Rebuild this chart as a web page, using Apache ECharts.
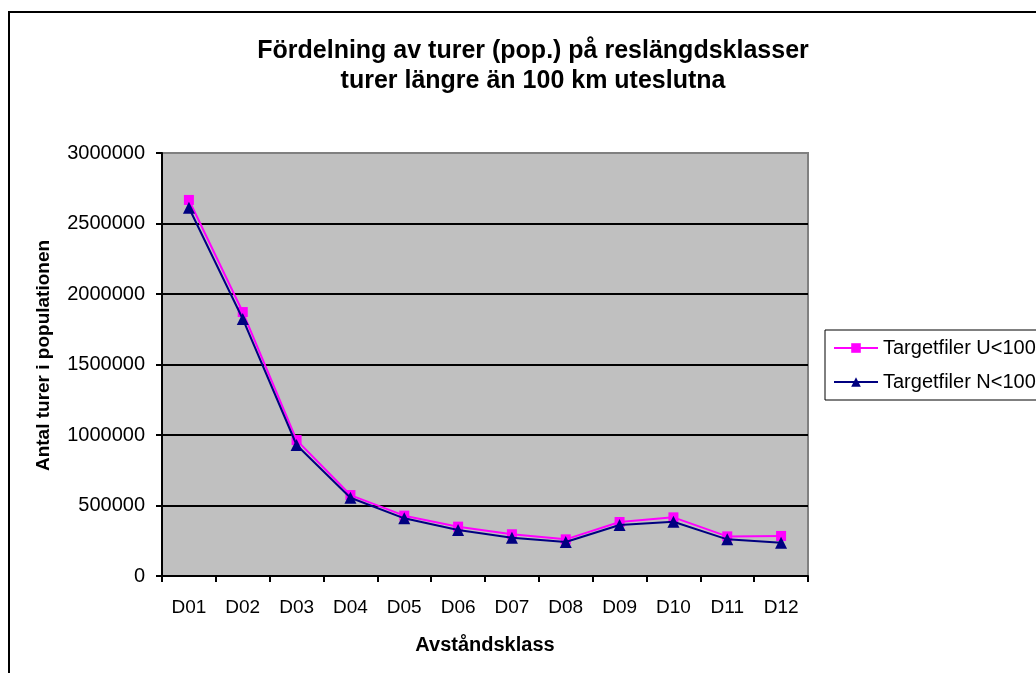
<!DOCTYPE html>
<html>
<head>
<meta charset="utf-8">
<script src="https://cdn.jsdelivr.net/npm/echarts@6/dist/echarts.min.js"></script>
<style>
  html, body { margin: 0; padding: 0; background: #fff; }
  #chart { width: 1036px; height: 673px; }
</style>
</head>
<body>
<div id="chart"></div>
<script>
// Distance classes and trip counts per class
const categories = ['D01', 'D02', 'D03', 'D04', 'D05', 'D06', 'D07', 'D08', 'D09', 'D10', 'D11', 'D12'];
const targetU = [2667000, 1872000, 964000, 574000, 428000, 350000, 296000, 260000, 383000, 416000, 281000, 284000];
const targetN = [2612000, 1823000, 929000, 555000, 409000, 326000, 272000, 241000, 362000, 385000, 260000, 236000];
const yTicks = { min: 0, max: 3000000, interval: 500000 };

const font = 'Liberation Sans, Arial, sans-serif';
const chart = echarts.init(document.getElementById('chart'), null, { renderer: 'canvas' });

chart.setOption({
  backgroundColor: '#ffffff',
  animation: false,
  title: {
    text: 'Fördelning av turer (pop.) på reslängdsklasser\nturer längre än 100 km uteslutna',
    left: 528,
    top: 31,
    textAlign: 'center',
    textStyle: { fontFamily: font, fontSize: 25, fontWeight: 'bold', color: '#000', lineHeight: 30 }
  },
  graphic: [{
    // chart frame, running off the right and bottom edges
    type: 'rect',
    shape: { x: 9, y: 12, width: 1100, height: 800 },
    style: { fill: null, stroke: '#000', lineWidth: 2 },
    z: 100,
    silent: true
  }],
  legend: {
    left: 825,
    top: 330,
    orient: 'vertical',
    itemGap: 12,
    itemWidth: 44,
    itemHeight: 12,
    padding: [7, 8, 7, 8],
    backgroundColor: '#ffffff',
    borderColor: '#000',
    borderWidth: 1,
    borderRadius: 0,
    textStyle: { fontFamily: font, fontSize: 20, color: '#000', lineHeight: 22 },
    data: ['Targetfiler U<100 km', 'Targetfiler N<100 km']
  },
  grid: {
    left: 162,
    top: 153,
    width: 646,
    height: 423,
    show: true,
    backgroundColor: '#C0C0C0',
    borderColor: '#808080',
    borderWidth: 2
  },
  xAxis: {
    type: 'category',
    data: categories,
    boundaryGap: true,
    name: 'Avståndsklass',
    nameLocation: 'middle',
    nameGap: 59,
    nameTextStyle: { fontFamily: font, fontSize: 20, fontWeight: 'bold', color: '#000' },
    axisLine: { lineStyle: { color: '#000', width: 2 } },
    axisTick: { show: true, length: 6, lineStyle: { color: '#000', width: 2 } },
    axisLabel: { fontFamily: font, fontSize: 19, color: '#000', margin: 22 },
    splitLine: { show: false }
  },
  yAxis: {
    type: 'value',
    min: yTicks.min,
    max: yTicks.max,
    interval: yTicks.interval,
    name: 'Antal turer i populationen',
    nameLocation: 'middle',
    nameGap: 109,
    nameTextStyle: { fontFamily: font, fontSize: 19, fontWeight: 'bold', color: '#000', padding: [0, 0, 0, 18] },
    axisLine: { show: true, lineStyle: { color: '#000', width: 2 } },
    axisTick: { show: true, length: 6, lineStyle: { color: '#000', width: 2 } },
    axisLabel: { fontFamily: font, fontSize: 20, color: '#000', margin: 17, formatter: v => String(v) },
    splitLine: { show: true, showMaxLine: false, lineStyle: { color: '#000', width: 2 } }
  },
  series: [
    {
      name: 'Targetfiler U<100 km',
      type: 'line',
      data: targetU,
      symbol: 'rect',
      symbolSize: 10,
      itemStyle: { color: '#FF00FF' },
      lineStyle: { color: '#FF00FF', width: 2 },
      z: 3
    },
    {
      name: 'Targetfiler N<100 km',
      type: 'line',
      data: targetN,
      symbol: 'triangle',
      symbolSize: 12,
      itemStyle: { color: '#000080' },
      lineStyle: { color: '#000080', width: 2 },
      z: 4
    }
  ]
});
</script>
</body>
</html>
